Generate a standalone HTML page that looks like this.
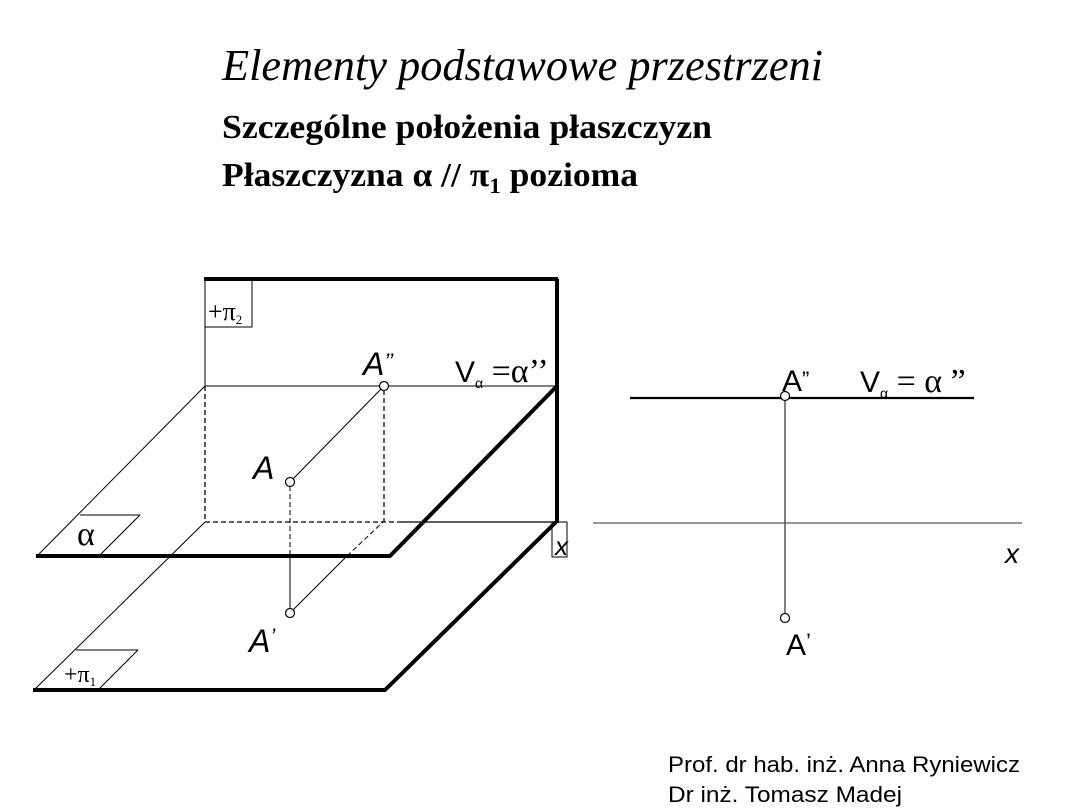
<!DOCTYPE html>
<html><head><meta charset="utf-8"><style>
html,body{margin:0;padding:0;background:#fff;}
svg{display:block}
</style></head><body>
<svg width="1080" height="810" viewBox="0 0 1080 810" xmlns="http://www.w3.org/2000/svg">
<g font-family="Liberation Serif, serif" fill="#000">
<text x="222" y="80" font-size="44" font-style="italic" textLength="601" lengthAdjust="spacingAndGlyphs">Elementy podstawowe przestrzeni</text>
<text x="222" y="138" font-size="34" font-weight="bold" textLength="490" lengthAdjust="spacingAndGlyphs">Szczególne położenia płaszczyzn</text>
<text x="222" y="186" font-size="34" font-weight="bold" textLength="416" lengthAdjust="spacingAndGlyphs">Płaszczyzna α // π<tspan font-size="22" dy="7">1</tspan><tspan dy="-7"> pozioma</tspan></text>
</g>
<g stroke="#000" fill="none">
<line x1="204" y1="279" x2="558" y2="279" stroke-width="4"/>
<line x1="557" y1="279" x2="557" y2="523" stroke-width="4"/>
<line x1="205" y1="279" x2="205" y2="386" stroke-width="1"/>
<line x1="205" y1="386" x2="205" y2="522" stroke-width="1.3" stroke-dasharray="5,3"/>
<rect x="205" y="280" width="47" height="47" stroke-width="1"/>
<line x1="205" y1="386" x2="557" y2="386" stroke-width="1.2" stroke="#333"/>
<line x1="205" y1="522" x2="400" y2="522" stroke-width="1.3" stroke-dasharray="5,3"/>
<line x1="400" y1="522" x2="557" y2="522" stroke-width="1.2"/>
<line x1="205" y1="386" x2="37" y2="556" stroke-width="1"/>
<line x1="36" y1="556" x2="391" y2="556" stroke-width="4"/>
<line x1="390" y1="556" x2="557" y2="386" stroke-width="4"/>
<line x1="205" y1="522" x2="34" y2="690" stroke-width="1"/>
<line x1="33" y1="690" x2="386" y2="690" stroke-width="4"/>
<line x1="385" y1="690" x2="556" y2="522" stroke-width="4"/>
<line x1="384" y1="390" x2="384" y2="522" stroke-width="1.2" stroke-dasharray="5,3"/>
<line x1="293" y1="479" x2="381" y2="389" stroke-width="1"/>
<line x1="290" y1="486" x2="290" y2="556" stroke-width="1" stroke-dasharray="5,3"/>
<line x1="290" y1="556" x2="290" y2="609" stroke-width="1"/>
<line x1="293" y1="610" x2="347" y2="556" stroke-width="1"/>
<line x1="347" y1="556" x2="383" y2="522" stroke-width="1" stroke-dasharray="5,3"/>
<circle cx="384" cy="386" r="4.5" fill="#fff" stroke-width="1.2"/>
<circle cx="290" cy="482" r="4.5" fill="#fff" stroke-width="1.2"/>
<circle cx="290" cy="613" r="4.5" fill="#fff" stroke-width="1.2"/>
<line x1="80" y1="515" x2="140" y2="515" stroke-width="1"/>
<line x1="140" y1="515" x2="99" y2="556" stroke-width="1"/>
<line x1="76" y1="650" x2="138" y2="650" stroke-width="1"/>
<line x1="138" y1="650" x2="98" y2="690" stroke-width="1"/>
<rect x="552" y="522" width="15" height="35" stroke-width="1"/>
<line x1="630" y1="398" x2="974" y2="398" stroke-width="2.2"/>
<line x1="593" y1="523" x2="1022" y2="523" stroke-width="1.5" stroke="#777"/>
<line x1="785" y1="398" x2="785" y2="617" stroke-width="1.5" stroke="#555"/>
<circle cx="785" cy="396" r="4.5" fill="#fff" stroke-width="1.2"/>
<circle cx="785" cy="618" r="4.5" fill="#fff" stroke-width="1.2"/>
</g>
<g font-family="Liberation Sans, sans-serif" fill="#000">
<text x="208" y="320" font-family="Liberation Serif, serif" font-size="26">+π<tspan font-size="13" dy="4">2</tspan></text>
<text x="77" y="545" font-family="Liberation Serif, serif" font-size="34">α</text>
<text x="64" y="682" font-family="Liberation Serif, serif" font-size="24">+π<tspan font-size="13" dy="4">1</tspan></text>
<text x="555" y="555" font-size="26" font-style="italic">x</text>
<text x="363" y="375" font-size="32" font-style="italic">A<tspan font-size="22" dy="-6">’’</tspan></text>
<text x="455" y="382" font-size="30">V<tspan font-size="14" dy="6">α</tspan><tspan dy="-6" font-family="Liberation Serif, serif" font-size="34"> =α’’</tspan></text>
<text x="253" y="479" font-size="32" font-style="italic">A</text>
<text x="249" y="652" font-size="32" font-style="italic">A<tspan font-size="22" dy="-8">’</tspan></text>
<text x="782" y="391" font-size="30">A<tspan font-size="22" dy="-4">”</tspan></text>
<text x="860" y="392" font-size="30">V<tspan font-size="14" dy="6">α</tspan><tspan dy="-6" font-family="Liberation Serif, serif" font-size="34"> = α ”</tspan></text>
<text x="1005" y="563" font-size="28" font-style="italic">x</text>
<text x="786" y="655" font-size="30">A<tspan font-size="22" dy="-6">’</tspan></text>
<text x="668" y="772" font-size="22" textLength="352" lengthAdjust="spacingAndGlyphs">Prof. dr hab. inż. Anna Ryniewicz</text>
<text x="668" y="802" font-size="22" textLength="234" lengthAdjust="spacingAndGlyphs">Dr inż. Tomasz Madej</text>
</g>
</svg>
</body></html>
